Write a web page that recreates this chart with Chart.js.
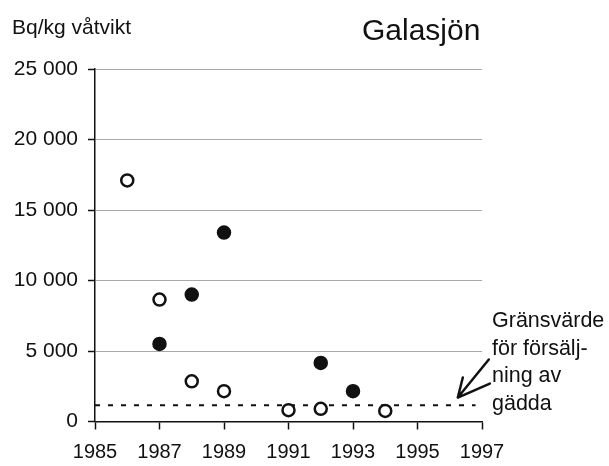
<!DOCTYPE html>
<html>
<head>
<meta charset="utf-8">
<script src="https://cdn.jsdelivr.net/npm/chart.js@4/dist/chart.umd.min.js"></script>
<style>
  html, body { margin: 0; padding: 0; background: #fff; }
  #galasjonCanvas { display: block; }
</style>
</head>
<body>
<canvas id="galasjonCanvas" width="609" height="466"></canvas>
<script>
// years and values (Bq/kg wet weight)
var filledYears = [1987, 1988, 1989, 1992, 1993];
var filledValues = [5500, 9000, 13400, 4150, 2150];

var openYears = [1986, 1987, 1988, 1989, 1991, 1992, 1994];
var openValues = [17100, 8650, 2850, 2150, 800, 900, 750];

// limit value for sale of pike, dashed line
var limitYears = [1985, 1996.8];
var limitValue = 1150;

var yTicks = [0, 5000, 10000, 15000, 20000, 25000];
var xTicks = [1985, 1987, 1989, 1991, 1993, 1995, 1997];

var titleText = "Galasjön";
var unitText = "Bq/kg våtvikt";
var noteLines = ["Gränsvärde", "för försälj-", "ning av", "gädda"];

var FONT = "'Liberation Sans', Arial, Helvetica, sans-serif";

function toPoints(xs, ys) {
    var pts = [];
    for (var i = 0; i < xs.length; i++) {
        pts.push({ x: xs[i], y: Array.isArray(ys) ? ys[i] : ys });
    }
    return pts;
}

function formatThousands(v) {
    return String(v).replace(/\B(?=(\d{3})+(?!\d))/g, " ");
}

/*
 * draws the title, unit label, the note on the right and its arrow
 */
var textPlugin = {
    id: "galasjonText",
    afterDraw: function(chart) {
        var ctx = chart.ctx;
        var x = chart.scales.x;
        var y = chart.scales.y;
        ctx.save();
        ctx.fillStyle = "#111";
        ctx.textAlign = "left";
        ctx.textBaseline = "alphabetic";

        ctx.font = "30px " + FONT;
        ctx.fillText(titleText, 362, 40);

        ctx.font = "21px " + FONT;
        ctx.fillText(unitText, 12, 34);

        ctx.font = "21.5px " + FONT;
        for (var i = 0; i < noteLines.length; i++) {
            ctx.fillText(noteLines[i], 492, 327 + i * 27.5);
        }

        // arrow pointing down-left at the dashed line
        var tipX = x.getPixelForValue(1996.25);
        var tipY = y.getPixelForValue(1700);
        ctx.strokeStyle = "#111";
        ctx.lineWidth = 2.5;
        ctx.lineCap = "round";
        ctx.lineJoin = "round";
        ctx.beginPath();
        ctx.moveTo(tipX + 31, tipY - 38);
        ctx.lineTo(tipX, tipY);
        ctx.lineTo(tipX + 32, tipY - 14);
        ctx.moveTo(tipX, tipY);
        ctx.lineTo(tipX + 5, tipY - 20);
        ctx.stroke();
        ctx.restore();
    }
};

var canvas = document.getElementById("galasjonCanvas");
var ctx = canvas.getContext("2d");

var dat = {
    datasets: [
        {
            label: "filled",
            data: toPoints(filledYears, filledValues),
            pointRadius: 6.5,
            pointBorderWidth: 1.5,
            pointBackgroundColor: "#111",
            pointBorderColor: "#111",
            showLine: false
        },
        {
            label: "open",
            data: toPoints(openYears, openValues),
            pointRadius: 6,
            pointBorderWidth: 2.5,
            pointBackgroundColor: "#fff",
            pointBorderColor: "#111",
            showLine: false
        },
        {
            label: "limit",
            type: "line",
            data: toPoints(limitYears, limitValue),
            borderColor: "#111",
            borderWidth: 2,
            borderDash: [5, 8],
            pointRadius: 0,
            fill: false
        }
    ]
};

var options = {
    responsive: false,
    animation: false,
    layout: { padding: { top: 69, right: 127, left: 0, bottom: 0 } },
    plugins: {
        legend: { display: false },
        tooltip: { enabled: false },
        title: { display: false }
    },
    scales: {
        x: {
            type: "linear",
            min: 1985,
            max: 1997,
            afterBuildTicks: function(scale) {
                scale.ticks = xTicks.map(function(v) { return { value: v }; });
            },
            afterFit: function(scale) { scale.height = 44.5; },
            grid: {
                drawOnChartArea: false,
                drawTicks: true,
                tickLength: 8,
                tickColor: "#111",
                tickWidth: 1.5
            },
            border: { color: "#111", width: 1.5 },
            ticks: {
                color: "#111",
                font: { family: FONT, size: 20 },
                padding: 11,
                maxRotation: 0,
                autoSkip: false,
                callback: function(v) { return String(v); }
            }
        },
        y: {
            min: 0,
            max: 25000,
            afterBuildTicks: function(scale) {
                scale.ticks = yTicks.map(function(v) { return { value: v }; });
            },
            afterFit: function(scale) { scale.width = 95; },
            grid: {
                color: "#a8a8a8",
                lineWidth: 1,
                drawTicks: true,
                tickLength: 7,
                tickColor: "#111",
                tickWidth: 1.5
            },
            border: { color: "#111", width: 1.5 },
            ticks: {
                color: "#111",
                font: { family: FONT, size: 21 },
                padding: 10,
                callback: function(v) { return formatThousands(v); }
            }
        }
    }
};

var myNewChart = new Chart(ctx, {
    type: "scatter",
    data: dat,
    options: options,
    plugins: [textPlugin]
});
</script>
</body>
</html>
